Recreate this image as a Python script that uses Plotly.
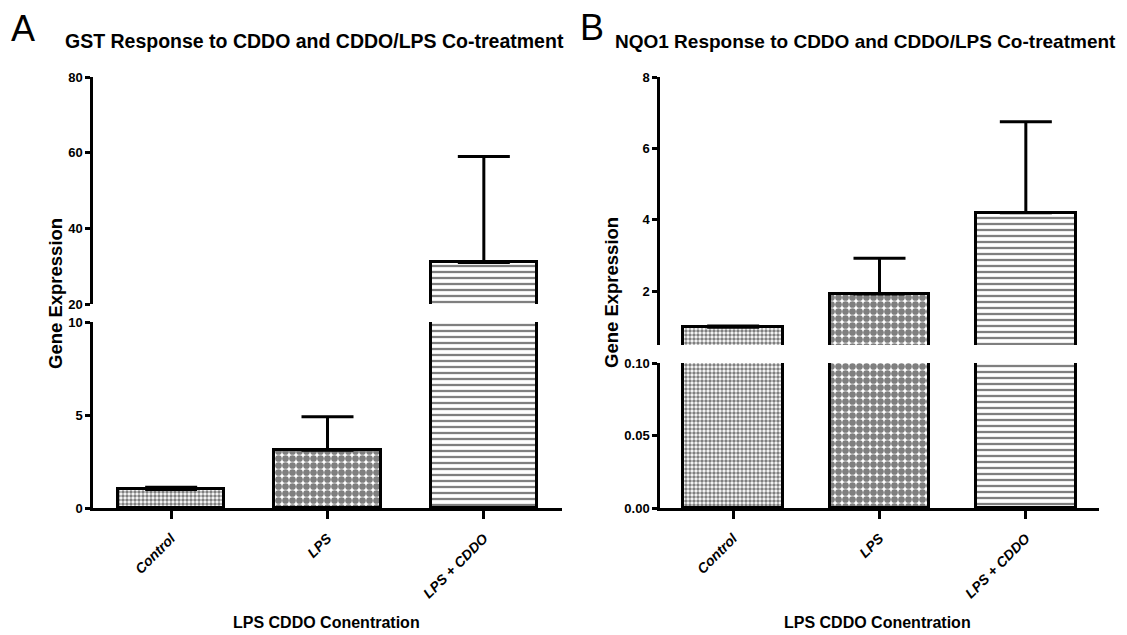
import plotly.graph_objects as go

# ---- data ----
categories = ["Control", "LPS", "LPS + CDDO"]
gst_mean = [1.0, 3.1, 31.0]
gst_err = [0.12, 1.8, 28.0]
nqo1_mean = [1.0, 1.93, 4.2]
nqo1_err = [0.03, 1.0, 2.55]

gst_title = "GST Response to CDDO and CDDO/LPS Co-treatment"
nqo1_title = "NQO1 Response to CDDO and CDDO/LPS Co-treatment"
y_title = "Gene Expression"
x_title = "LPS CDDO Conentration"

W, H = 1127, 635
SANS = "Liberation Sans, Arial, sans-serif"

pat_shape = [".", ".", "-"]
pat_size = [4, 7, 6]
pat_solid = [0.6, 0.72, 0.38]

fig = go.Figure()


def add_bars(means, errs, xa, ya):
    fig.add_trace(go.Bar(
        x=list(range(len(categories))), y=means, xaxis=xa, yaxis=ya,
        width=0.68,
        marker=dict(color="white", line=dict(color="black", width=3),
                    pattern=dict(shape=pat_shape, size=pat_size, solidity=pat_solid,
                                 fgcolor="black", bgcolor="white", fillmode="overlay")),
        error_y=dict(type="data", array=errs, arrayminus=[0] * len(errs), symmetric=False,
                     color="black", thickness=3, width=26),
        showlegend=False, hoverinfo="skip",
    ))


add_bars(gst_mean, gst_err, "x", "y")
add_bars(gst_mean, gst_err, "x", "y2")
add_bars(nqo1_mean, nqo1_err, "x2", "y3")
add_bars(nqo1_mean, nqo1_err, "x2", "y4")


def px_x(p):
    return p / W


def px_y(p):
    return 1 - p / H


ytick_font = dict(family=SANS, size=13, color="black", weight="bold")
xtick_font = dict(family=SANS, size=14, color="black", weight="bold", style="italic")
common_y = dict(showline=True, linecolor="black", linewidth=2.5, ticks="outside",
                ticklen=5, tickwidth=2.5, tickcolor="black", showgrid=False,
                zeroline=False, tickfont=ytick_font, automargin=False, fixedrange=True)
common_x = dict(showline=True, linecolor="black", linewidth=2.5, ticks="outside",
                ticklen=8, tickwidth=2.5, tickcolor="black", showgrid=False,
                zeroline=False, tickfont=xtick_font, tickangle=-45, automargin=False,
                ticklabelstandoff=6,
                range=[-0.5, 2.5], tickvals=[0, 1, 2], ticktext=categories)

fig.update_layout(
    width=W, height=H,
    margin=dict(l=0, r=0, t=0, b=0),
    paper_bgcolor="white", plot_bgcolor="white",
    template="none",
    bargap=0,
    xaxis=dict(domain=[px_x(93), px_x(562)], anchor="y", **common_x),
    yaxis=dict(domain=[px_y(508), px_y(322)], anchor="x", range=[0, 10],
               tickvals=[0, 5, 10], **common_y),
    yaxis2=dict(domain=[px_y(304), px_y(77)], anchor="x", range=[20, 80],
                tickvals=[20, 40, 60, 80], **common_y),
    xaxis2=dict(domain=[px_x(660), px_x(1099)], anchor="y3", **common_x),
    yaxis3=dict(domain=[px_y(508), px_y(363)], anchor="x2", range=[0, 0.10],
                tickvals=[0, 0.05, 0.10], tickformat=".2f", **common_y),
    yaxis4=dict(domain=[px_y(345), px_y(77)], anchor="x2", range=[0.5, 8],
                tickvals=[2, 4, 6, 8], **common_y),
)

ann = []
# panel letters
ann.append(dict(text="A", x=px_x(23), y=px_y(28), font=dict(family=SANS, size=36, color="black")))
ann.append(dict(text="B", x=px_x(592), y=px_y(27), font=dict(family=SANS, size=36, color="black")))
# titles
ann.append(dict(text="<b>" + gst_title + "</b>", x=px_x(314), y=px_y(41),
                font=dict(family=SANS, size=19.5, color="black")))
ann.append(dict(text="<b>" + nqo1_title + "</b>", x=px_x(865), y=px_y(41),
                font=dict(family=SANS, size=19, color="black")))
# y titles
ann.append(dict(text="<b>" + y_title + "</b>", x=px_x(55), y=px_y(294), textangle=-90,
                font=dict(family=SANS, size=18.5, color="black")))
ann.append(dict(text="<b>" + y_title + "</b>", x=px_x(612), y=px_y(292), textangle=-90,
                font=dict(family=SANS, size=18.5, color="black")))
# x titles
ann.append(dict(text="<b>" + x_title + "</b>", x=px_x(326), y=px_y(622),
                font=dict(family=SANS, size=16, color="black")))
ann.append(dict(text="<b>" + x_title + "</b>", x=px_x(878), y=px_y(622),
                font=dict(family=SANS, size=16, color="black")))
for a in ann:
    a.update(xref="paper", yref="paper", showarrow=False, xanchor="center", yanchor="middle")
fig.update_layout(annotations=ann)

fig.write_html(
    "out.html",
    config={"displayModeBar": False},
    post_script="document.body.style.margin='0';document.body.style.overflow='hidden';",
)
